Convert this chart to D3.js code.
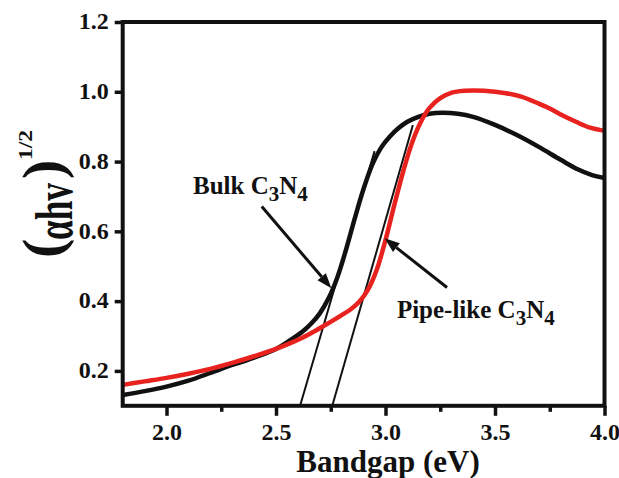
<!DOCTYPE html>
<html>
<head>
<meta charset="utf-8">
<script src="https://cdn.jsdelivr.net/npm/d3@7"></script>
<style>
  html, body { margin: 0; padding: 0; background: #fff; }
  svg { display: block; }
  text { font-family: "Liberation Serif", "Times New Roman", serif; font-weight: bold; fill: #111; }
</style>
</head>
<body>
<svg id="chart" width="619" height="478"></svg>
<script>
// Tauc plot: (αhν)^1/2 against photon energy for bulk and pipe-like C3N4

// Bulk C3N4 (black curve)
const bulkX = [1.80, 1.90, 2.00, 2.10, 2.20, 2.30, 2.40, 2.50, 2.56, 2.62, 2.66, 2.70, 2.74, 2.78, 2.82, 2.86,
               2.90, 2.94, 2.98, 3.02, 3.06, 3.10, 3.15, 3.20, 3.26, 3.33, 3.40, 3.50, 3.60, 3.70, 3.80, 3.88, 3.94, 4.00];
const bulkY = [0.131, 0.142, 0.155, 0.172, 0.194, 0.217, 0.238, 0.263, 0.286, 0.312, 0.335, 0.365, 0.408, 0.468, 0.548, 0.638,
               0.722, 0.792, 0.840, 0.872, 0.896, 0.914, 0.928, 0.937, 0.940, 0.937, 0.928, 0.905, 0.876, 0.842, 0.805, 0.777, 0.762, 0.753];

// Pipe-like C3N4 (red curve)
const pipeX = [1.80, 1.90, 2.00, 2.10, 2.20, 2.30, 2.40, 2.50, 2.56, 2.62, 2.68, 2.74, 2.80, 2.84, 2.88, 2.92, 2.96,
               3.00, 3.04, 3.08, 3.12, 3.16, 3.20, 3.25, 3.30, 3.36, 3.45, 3.55, 3.62, 3.70, 3.75, 3.80, 3.87, 3.93, 4.00];
const pipeY = [0.160, 0.170, 0.180, 0.192, 0.206, 0.223, 0.242, 0.263, 0.278, 0.295, 0.315, 0.337, 0.360, 0.376, 0.398, 0.433, 0.490,
               0.575, 0.675, 0.770, 0.852, 0.912, 0.953, 0.982, 0.997, 1.003, 1.003, 0.996, 0.986, 0.966, 0.952, 0.935, 0.914, 0.898, 0.888];

// Linear extrapolations of the absorption edges to the baseline
const bulkTangent = [[2.61, 0.10], [2.95, 0.83]];
const pipeTangent = [[2.757, 0.10], [3.125, 0.905]];

// Axis ticks
const xMajorTicks = [2.0, 2.5, 3.0, 3.5, 4.0];
const xMinorTicks = [2.25, 2.75, 3.25, 3.75];
const yTicks = [0.2, 0.4, 0.6, 0.8, 1.0, 1.2];

// Annotation arrows: [tail, tip] in data units
const bulkArrow = [[2.435, 0.671], [2.753, 0.437]];
const pipeArrow = [[3.281, 0.439], [2.996, 0.580]];
const bulkLabelAt = [2.121, 0.706];
const pipeLabelAt = [3.052, 0.351];

const svg = d3.select("#chart");
const plot = { left: 122.7, right: 604.5, top: 22, bottom: 405.8 };

const x = d3.scaleLinear().domain([1.8, 4.0]).range([plot.left, plot.right]);
const y = d3.scaleLinear().domain([0.1, 1.2]).range([plot.bottom, plot.top]);

const line = d3.line()
  .x(d => x(d[0]))
  .y(d => y(d[1]))
  .curve(d3.curveCatmullRom.alpha(0.5));

// Tangent lines
[bulkTangent, pipeTangent].forEach(t => {
  svg.append("line")
    .attr("x1", x(t[0][0])).attr("y1", y(t[0][1]))
    .attr("x2", x(t[1][0])).attr("y2", y(t[1][1]))
    .attr("stroke", "#111").attr("stroke-width", 2);
});

// Curves
svg.append("path")
  .datum(d3.zip(bulkX, bulkY))
  .attr("d", line)
  .attr("fill", "none").attr("stroke", "#111").attr("stroke-width", 4.5)
  .attr("stroke-linejoin", "round");

svg.append("path")
  .datum(d3.zip(pipeX, pipeY))
  .attr("d", line)
  .attr("fill", "none").attr("stroke", "#e8231f").attr("stroke-width", 4.5)
  .attr("stroke-linejoin", "round");

// Axes
const xAxis = d3.axisBottom(x).tickValues(xMajorTicks).tickFormat(d3.format(".1f"))
  .tickSizeInner(10).tickSizeOuter(0).tickPadding(7);
const xMinor = d3.axisBottom(x).tickValues(xMinorTicks).tickFormat("")
  .tickSizeInner(6).tickSizeOuter(0);
const yAxis = d3.axisLeft(y).tickValues(yTicks).tickFormat(d3.format(".1f"))
  .tickSizeInner(8).tickSizeOuter(0).tickPadding(6);

const gx = svg.append("g").attr("transform", `translate(0,${plot.bottom})`).call(xAxis);
const gxm = svg.append("g").attr("transform", `translate(0,${plot.bottom})`).call(xMinor);
const gy = svg.append("g").attr("transform", `translate(${plot.left},0)`).call(yAxis);

[gx, gxm, gy].forEach(g => {
  g.select(".domain").remove();
  g.selectAll(".tick line").attr("stroke", "#111").attr("stroke-width", 3.5);
  g.selectAll(".tick text")
    .style("font-family", '"Liberation Serif", "Times New Roman", serif')
    .style("font-weight", "bold")
    .style("font-size", "24px")
    .attr("fill", "#111");
});
gy.selectAll(".tick text").attr("dy", "0.28em");

// Frame
svg.append("rect")
  .attr("x", plot.left).attr("y", plot.top)
  .attr("width", plot.right - plot.left).attr("height", plot.bottom - plot.top)
  .attr("fill", "none").attr("stroke", "#111").attr("stroke-width", 4);

// Axis titles
svg.append("text")
  .attr("x", 388).attr("y", 471.5)
  .attr("text-anchor", "middle")
  .style("font-size", "31px")
  .text("Bandgap (eV)");

const yTitle = svg.append("g");
yTitle.append("text")
  .attr("transform", "translate(62,258) rotate(-90)")
  .style("font-size", "58px")
  .text("(");
yTitle.append("text")
  .attr("transform", "translate(72,240) rotate(-90)")
  .style("font-size", "52px")
  .attr("textLength", 57).attr("lengthAdjust", "spacingAndGlyphs")
  .text("αhv");
yTitle.append("text")
  .attr("transform", "translate(62,179) rotate(-90)")
  .style("font-size", "58px")
  .text(")");
yTitle.append("text")
  .attr("transform", "translate(32,160) rotate(-90)")
  .style("font-size", "18px")
  .attr("textLength", 30).attr("lengthAdjust", "spacingAndGlyphs")
  .text("1/2");

// Arrows
function arrow(a) {
  const x0 = x(a[0][0]), y0 = y(a[0][1]);
  const x1 = x(a[1][0]), y1 = y(a[1][1]);
  const ang = Math.atan2(y1 - y0, x1 - x0);
  const headLen = 15, headHalf = 5.5;
  const bx = x1 - headLen * Math.cos(ang), by = y1 - headLen * Math.sin(ang);
  svg.append("line")
    .attr("x1", x0).attr("y1", y0).attr("x2", bx).attr("y2", by)
    .attr("stroke", "#111").attr("stroke-width", 3);
  const px = -Math.sin(ang) * headHalf, py = Math.cos(ang) * headHalf;
  svg.append("path")
    .attr("d", `M${x1},${y1}L${bx + px},${by + py}L${bx - px},${by - py}Z`)
    .attr("fill", "#111");
}
arrow(bulkArrow);
arrow(pipeArrow);

// Sample labels with subscripts
function formulaLabel(pos, name) {
  const t = svg.append("text")
    .attr("x", x(pos[0])).attr("y", y(pos[1]))
    .style("font-size", "25px");
  t.append("tspan").text(name + " C");
  t.append("tspan").attr("dy", 7).style("font-size", "21px").text("3");
  t.append("tspan").attr("dy", -7).text("N");
  t.append("tspan").attr("dy", 7).style("font-size", "21px").text("4");
}
formulaLabel(bulkLabelAt, "Bulk");
formulaLabel(pipeLabelAt, "Pipe-like");
</script>
</body>
</html>
